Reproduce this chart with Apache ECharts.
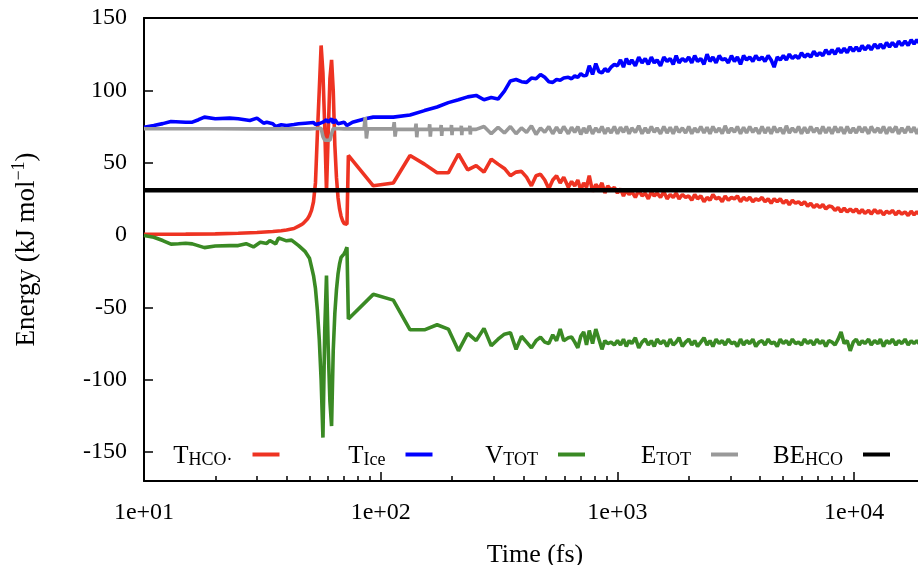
<!DOCTYPE html>
<html>
<head>
<meta charset="utf-8">
<script src="https://cdn.jsdelivr.net/npm/echarts@6/dist/echarts.min.js"></script>
<style>
  html, body { margin: 0; padding: 0; background: #fff; }
  #chart { width: 918px; height: 565px; }
</style>
</head>
<body>
<div id="chart"></div>
<script>
// tick values
const xMajorTicks = [10, 100, 1000, 10000];
const xMinorTicks = [20, 30, 40, 50, 60, 70, 80, 90, 200, 300, 400, 500, 600, 700, 800, 900,
  2000, 3000, 4000, 5000, 6000, 7000, 8000, 9000];
const yTicks = [-150, -100, -50, 0, 50, 100, 150];

// early part of each curve, [time fs, energy]
const redHead = [[10, 0.5], [15, 0.6], [20, 0.8], [25, 1.2], [30, 1.7], [35, 2.4], [38, 3], [40, 3.5],
  [43, 4.5], [45, 6.2], [46, 7], [47, 8], [48, 9.5], [49, 11], [50, 13.5], [51, 17], [52, 23], [53, 36],
  [54, 70], [55, 100], [56, 131], [57, 112], [58, 75], [59, 30], [60, 70], [61, 108], [62, 121], [63, 100],
  [64, 62], [65, 40], [66, 26], [67, 18], [68, 13], [69, 10], [70, 8], [71, 7.7], [72, 7.5], [73, 55],
  [93, 34], [113, 36], [133, 55], [153, 49], [173, 43], [193, 43], [213, 56], [233, 45], [253, 48]];
const blueHead = [[10, 74.5], [11, 75.7], [12, 77], [13, 78.5], [15, 78], [16, 78], [17, 79.7], [18, 81.5],
  [20, 80.4], [23, 80.8], [25, 80.4], [28, 79.2], [30, 80.8], [32, 77.3], [33, 78], [35, 76.9], [36, 75],
  [38, 76.2], [40, 75.7], [43, 76.4], [45, 76.9], [48, 77.3], [52, 77.8], [53, 76.4], [55, 77], [56, 78],
  [57, 78], [58, 77], [59, 79.7], [60, 78], [62, 80.4], [63, 77.3], [64, 79.7], [66, 76.9], [70, 78],
  [72, 75.7], [73, 75.7], [76, 78], [86, 80.4], [93, 81.5], [113, 81.5], [133, 83], [153, 86], [173, 88.5],
  [193, 91.5], [213, 93.5], [233, 95.5], [253, 96.5]];
const greenHead = [[10, -0.3], [11, -1.5], [12, -3.8], [13, -6.3], [14, -6], [15, -5.7], [16, -6.1],
  [18, -8.7], [20, -7.6], [23, -7.3], [25, -7.3], [27, -6], [29, -8.2], [31, -5], [33, -5.8], [34, -3.8],
  [36, -6.1], [37, -2], [40, -4], [42, -3.5], [45, -7.3], [48, -11.5], [50, -16], [51, -22], [52, -28],
  [53, -37], [54, -52], [55, -72], [56, -100], [57, -140], [58, -66], [59, -28], [60, -78], [61, -115],
  [62, -132], [63, -80], [64, -54], [65, -38], [66, -27], [67, -20], [68, -15.5], [70, -13], [71, -11],
  [72, -8.4], [73, -58], [93, -41], [113, -45], [133, -65.5], [153, -65.5], [173, -62], [193, -65],
  [213, -80], [233, -68], [253, -73]];
const grayHead = [[10, 73.5], [20, 73.5], [30, 73.4], [40, 73.5], [50, 73.4], [56, 73.8], [57, 68],
  [58, 65.5], [61, 65.5], [62, 70], [63, 73.6], [70, 73.4], [85, 73.4], [86, 81.5], [87, 66.7], [88, 73.4],
  [113, 73.4], [114, 78], [115, 68], [116, 73], [140, 73], [141, 77], [142, 67.6], [143, 73], [160, 73],
  [161, 76.5], [162, 68], [163, 73], [179, 73], [180, 76], [181, 68.5], [182, 73], [198, 73], [199, 76],
  [200, 69], [201, 73], [218, 73], [219, 75.5], [220, 69], [221, 73], [237, 73], [238, 75.5], [239, 69.5],
  [240, 73], [253, 73]];
const blackLine = [[10, 31], [20000, 31]];

// later, noisy part: shared times and values per curve
const tailTime = [273, 293, 313, 333, 353, 373, 393, 413, 433, 453, 473, 493, 513, 533, 553, 573, 593,
  620, 640, 660, 680, 700, 720, 740, 760, 785, 810, 835, 860, 885, 910, 940, 970,
  1000, 1030, 1060, 1090, 1120, 1150, 1190, 1230, 1270, 1310, 1350, 1390, 1430, 1470, 1520, 1570, 1620, 1670, 1720, 1770, 1820, 1880, 1940,
  2000, 2060, 2120, 2180, 2250, 2320, 2390, 2460, 2530, 2610, 2690, 2770, 2850, 2940, 3030, 3120, 3210, 3310, 3410, 3510, 3620, 3730, 3840, 3960,
  4080, 4200, 4330, 4460, 4590, 4730, 4870, 5020, 5170, 5320, 5480, 5650, 5820, 5990, 6170, 6360, 6550, 6750, 6950, 7160, 7370, 7590, 7820,
  8060, 8300, 8550, 8800, 9070, 9340, 9620, 9910,
  10200, 10500, 10800, 11100, 11500, 11800, 12200, 12600, 12900, 13300, 13700, 14100, 14500, 15000, 15400, 15900, 16400, 16900, 17400, 17900, 18400, 19000, 19500, 20000];
const redTail = [43.5, 52.5, 49, 46, 41, 43.5, 44, 40, 34, 41, 42, 38, 32, 38, 41, 36, 40,
  33, 37, 34, 38, 31, 36, 33, 41, 30, 35, 32, 36, 29, 34, 31, 33,
  29, 32, 27, 31, 28, 30, 26, 31, 27, 29, 25, 30, 27, 29, 26, 30, 25, 28, 26, 29, 25, 28, 26,
  27, 24, 28, 25, 27, 23, 26, 24, 28, 25, 26, 23, 27, 24, 26, 25, 27, 23, 26, 24, 26, 23, 25, 24,
  26, 23, 25, 22, 25, 23, 25, 22, 24, 21, 24, 22, 23, 21, 23, 20, 22, 19, 21, 19, 21, 18, 20,
  19.5, 17, 19, 16, 18.5, 16, 18, 16,
  18, 15, 17.5, 15, 17, 14.5, 17.5, 15, 17, 14, 16.5, 15, 17, 14, 16.5, 14.5, 16, 13.5, 16.5, 14, 16, 14, 16, 15];
const blueTail = [93.5, 95, 94, 99.5, 106.5, 107.5, 106, 105.5, 108.5, 108, 111, 109, 106, 105.5, 107.5, 107, 108.5,
  109, 108, 110, 109, 111.5, 110, 110.5, 117, 111, 118.5, 113, 112, 115, 113, 116, 118,
  117, 121, 116, 122, 118, 121, 117, 123, 119, 122, 118, 123, 119, 121, 117, 123, 120, 122, 118, 124, 119, 122, 120,
  123, 119, 124, 120, 122, 118, 125, 120, 123, 119, 124, 121, 122, 119, 124, 120, 123, 118, 124, 121, 123, 120, 124, 121,
  123, 120, 124, 121, 116, 123, 121, 124, 121, 125, 122, 124, 122, 126, 123, 125, 123, 127, 124, 126, 124, 128, 125,
  128, 125, 129, 126, 129, 126, 130, 127,
  130, 127, 131, 128, 131, 128, 132, 129, 132, 129, 133, 130, 133, 130, 134, 131, 134, 131, 135, 132, 135, 132, 136, 133];
const greenTail = [-64.5, -76.5, -72, -68.5, -67.5, -79, -70, -74, -78, -73, -70.5, -74, -75, -69, -73, -65, -73,
  -71, -70.5, -74, -78, -70, -67, -76, -66, -75, -65, -72, -79, -73, -75, -74, -76,
  -73, -76, -72, -77, -73, -75, -71, -78, -74, -72, -76, -73, -77, -72, -75, -73, -77, -72, -76, -74, -71, -77, -74,
  -72, -76, -73, -77, -74, -71, -76, -73, -77, -72, -75, -73, -76, -72, -75, -74, -77, -72, -76, -73, -75, -72, -77, -74,
  -73, -76, -72, -75, -74, -77, -72, -75, -73, -76, -72, -75, -74, -76, -72, -75, -73, -76, -72, -75, -73, -77, -73,
  -74, -76, -72, -67, -75, -73, -80, -74,
  -72, -76, -73, -75, -72, -76, -73, -75, -72, -77, -73, -75, -72, -76, -73, -75, -72, -76, -73, -75, -73, -76, -72, -75];
const grayTail = [75, 70, 74.5, 70.5, 75, 70, 74, 71, 75.5, 69.5, 74, 71, 75, 70, 74.5, 70.5, 75,
  70, 74.5, 71, 75, 69.5, 74, 70.5, 75.5, 70, 74, 71, 75, 70, 74, 70.5, 75,
  70, 74.5, 71, 75, 70, 74, 71, 75.5, 70, 74, 70.5, 75, 71, 74, 70, 75, 70.5, 74.5, 70, 75, 71, 74, 70.5,
  75, 70, 74, 71, 75, 70.5, 74.5, 70, 75, 71, 74, 70, 75.5, 70.5, 74, 71, 75, 70, 74.5, 70.5, 75, 71, 74, 70,
  75, 70.5, 74.5, 70, 75, 71, 74, 70, 75.5, 70.5, 74, 71, 75, 70, 74.5, 70.5, 75, 71, 74, 70, 75, 70.5, 74.5,
  70, 75, 71, 74.5, 70, 75, 70.5, 74,
  70.5, 75, 71, 74.5, 70, 75, 71, 74, 70.5, 75, 70, 74.5, 71, 75, 70, 74, 70.5, 75, 71, 74.5, 70, 75, 70.5, 74.5];

const legendLabels = {
  THCO: '{m|T}{s|HCO·}',
  TIce: '{m|T}{s|Ice}',
  VTOT: '{m|V}{s|TOT}',
  ETOT: '{m|E}{s|TOT}',
  BEHCO: '{m|BE}{s|HCO}'
};

function build(head, tail) {
  return head.concat(tailTime.map((t, i) => [t, tail[i]]));
}

const FONT = 'Liberation Serif';
const X_MIN = 10, X_MAX = 18600;
const chart = echarts.init(document.getElementById('chart'), null, { renderer: 'canvas' });

function lineSeries(name, color, data, width) {
  return {
    name: name,
    type: 'line',
    data: data,
    color: color,
    showSymbol: false,
    symbol: 'none',
    lineStyle: { color: color, width: width },
    animation: false
  };
}

const legendRich = {
  m: { fontSize: 25, lineHeight: 29, verticalAlign: 'bottom', fontFamily: FONT, color: '#000' },
  s: { fontSize: 18, lineHeight: 18, verticalAlign: 'bottom', fontFamily: FONT, color: '#000' }
};

function legendFor(name, rightPos) {
  return {
    data: [{ name: name, icon: 'rect' }],
    right: rightPos,
    top: 444,
    padding: 0,
    align: 'right',
    itemWidth: 27,
    itemHeight: 4,
    selectedMode: false,
    formatter: n => legendLabels[n],
    textStyle: { padding: [0, 15, 0, 0], rich: legendRich }
  };
}

chart.setOption({
  animation: false,
  backgroundColor: '#fff',
  textStyle: { fontFamily: FONT },
  grid: { left: 144, right: 0, top: 18, bottom: 84, outerBoundsMode: 'none', containLabel: false },
  legend: [
    legendFor('THCO', 638.5),
    legendFor('TIce', 485.5),
    legendFor('VTOT', 333),
    legendFor('ETOT', 180),
    legendFor('BEHCO', 28)
  ],
  xAxis: [{
    type: 'log', logBase: 10, min: X_MIN, max: X_MAX, position: 'bottom',
    axisLine: { onZero: false, lineStyle: { color: '#000', width: 2 } },
    axisTick: { inside: true, length: 9, customValues: xMajorTicks, lineStyle: { color: '#000', width: 1.5 } },
    axisLabel: {
      customValues: xMajorTicks, fontSize: 24, color: '#000', margin: 20, fontFamily: FONT,
      formatter: v => Number(v).toExponential().replace(/e\+(\d)$/, 'e+0$1')
    },
    minorTick: { show: false },
    splitLine: { show: false },
    name: 'Time (fs)', nameLocation: 'middle', nameGap: 61,
    nameTextStyle: { fontSize: 26, color: '#000', fontFamily: FONT, padding: [0, 0, 0, 8] }
  }, {
    type: 'log', logBase: 10, min: X_MIN, max: X_MAX, position: 'bottom',
    axisLine: { show: false, onZero: false },
    axisTick: { inside: true, length: 5, customValues: xMinorTicks, lineStyle: { color: '#000', width: 1.5 } },
    axisLabel: { show: false },
    splitLine: { show: false }
  }, {
    type: 'log', logBase: 10, min: X_MIN, max: X_MAX, position: 'top',
    axisLine: { show: true, onZero: false, lineStyle: { color: '#000', width: 2 } },
    axisTick: { show: false },
    axisLabel: { show: false },
    splitLine: { show: false }
  }],
  yAxis: {
    type: 'value', min: -170, max: 150,
    axisLine: { show: true, onZero: false, lineStyle: { color: '#000', width: 2 } },
    axisTick: { show: true, inside: true, length: 9, customValues: yTicks, lineStyle: { color: '#000', width: 1.5 } },
    axisLabel: { customValues: yTicks, fontSize: 24, color: '#000', margin: 17, fontFamily: FONT },
    splitLine: { show: false },
    name: '{a|Energy (kJ mol}{b|−1}{a|)}',
    nameLocation: 'middle', nameRotate: 90, nameGap: 104,
    nameTextStyle: {
      rich: {
        a: { fontSize: 27, lineHeight: 30, verticalAlign: 'bottom', fontFamily: FONT, color: '#000' },
        b: { fontSize: 18, lineHeight: 18, verticalAlign: 'top', fontFamily: FONT, color: '#000' }
      }
    }
  },
  series: [
    lineSeries('THCO', '#ee3322', build(redHead, redTail), 3.6),
    lineSeries('TIce', '#0000ff', build(blueHead, blueTail), 3.6),
    lineSeries('VTOT', '#3a8a24', build(greenHead, greenTail), 3.6),
    lineSeries('ETOT', '#999999', build(grayHead, grayTail), 3.6),
    lineSeries('BEHCO', '#000000', blackLine, 4.5)
  ]
});
</script>
</body>
</html>
